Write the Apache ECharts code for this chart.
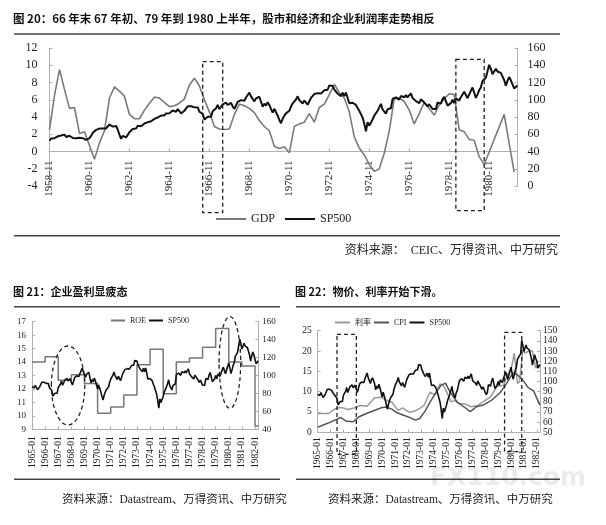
<!DOCTYPE html>
<html><head><meta charset="utf-8">
<script src="https://cdn.jsdelivr.net/npm/echarts@6/dist/echarts.min.js"></script>
<style>html,body{margin:0;padding:0;background:#fff}#c{width:606px;height:525px}</style>
</head><body><div id="c"></div>
<script>
// ---------------- DATA ----------------
const sp500Start = '1958-11';
const sp500 = [
 52.48,55.21,
 55.42,55.41,55.44,57.59,58.68,58.47,60.51,59.60,56.88,57.52,58.28,59.89,
 55.61,56.12,55.34,54.37,55.83,56.92,55.51,56.96,53.52,53.39,55.54,58.11,
 61.78,63.44,65.06,65.31,66.56,64.64,66.76,68.07,66.73,68.62,71.32,71.55,
 68.84,69.96,69.55,65.24,59.63,54.75,58.23,59.12,56.27,56.52,62.26,63.10,
 66.20,64.29,66.57,69.80,70.80,69.37,69.13,72.50,71.70,74.01,73.23,75.02,
 77.04,77.80,78.98,79.46,80.37,81.69,83.18,81.83,84.18,84.86,84.42,84.75,
 87.56,87.43,86.16,89.11,88.42,84.12,85.25,87.17,89.96,92.42,91.61,92.43,
 92.88,91.22,89.23,91.06,86.13,84.74,83.60,77.10,76.56,80.20,80.45,80.33,
 86.61,86.78,90.20,94.01,89.08,90.64,94.75,93.64,96.71,93.90,94.00,96.47,
 92.24,89.36,90.20,97.59,98.68,99.58,97.74,98.86,102.67,103.41,108.37,103.86,
 103.01,98.13,101.51,103.69,103.46,97.71,91.83,95.51,93.12,97.24,93.81,92.06,
 85.02,89.50,89.63,81.52,76.55,72.72,78.05,81.52,84.21,83.25,87.20,92.15,
 95.88,96.75,100.31,103.95,99.63,99.70,95.58,99.03,98.34,94.23,93.99,102.09,
 103.94,106.57,107.20,107.67,109.53,107.14,107.39,111.09,110.55,111.58,116.67,118.05,
 116.03,111.68,111.52,106.97,104.95,104.26,108.22,104.25,108.43,108.29,95.96,97.55,
 96.57,96.22,93.98,90.31,87.28,86.00,79.31,72.15,63.54,73.90,69.97,68.56,
 76.98,81.59,83.36,87.30,91.15,95.19,88.75,86.88,83.87,89.04,91.24,90.19,
 100.86,99.71,102.77,101.64,100.18,104.28,103.44,102.91,105.24,102.90,102.10,107.46,
 102.03,99.82,98.42,98.44,96.12,100.48,98.85,96.77,96.53,92.34,94.83,95.10,
 89.25,87.04,89.21,96.83,97.24,95.53,100.68,103.29,102.54,93.15,94.70,96.11,
 99.93,96.28,101.59,101.76,99.08,102.91,103.81,109.32,109.32,101.82,106.16,107.94,
 114.16,113.66,102.09,106.29,111.24,114.24,121.67,122.38,125.46,127.47,140.52,135.76,
 129.55,131.27,136.00,132.81,132.59,131.21,130.92,122.79,116.18,121.89,126.35,122.55,
 120.40,113.11,111.96,116.44
];
// GDP yoy (%), quarterly from 1958-11 (null = no point)
const gdpStart = '1958-11';
const gdpQuarterly = [
 2.5,6.5,9.5,7.2,5.0,5.1,2.1,2.3,0.7,-0.9,1.0,2.4,6.2,7.5,7.0,6.4,
 4.3,3.8,3.8,4.8,5.6,6.3,6.2,5.7,5.2,5.3,5.6,6.1,7.7,8.5,7.6,6.0,
 4.6,2.9,2.6,2.55,2.6,4.3,5.5,5.3,5.0,4.5,3.6,2.9,2.4,0.6,0.35,0.55,
 -0.15,2.9,3.2,3.4,4.4,3.4,5.1,5.5,6.6,7.8,6.8,6.2,4.6,1.7,0.4,-0.4,
 -1.5,-2.3,-2.0,-0.2,2.4,6.1,6.2,5.8,4.8,3.2,4.4,5.7,5.0,4.2,5.4,6.1,
 6.7,6.6,2.5,2.3,1.4,1.3,-0.6,-1.5,null,null,null,4.3,null,-2.4
];
// Chart 21: ROE (%)
const roeDates  = ['1965-01','1966-01','1967-01','1968-01','1969-01','1970-01','1971-01','1972-01','1973-01','1974-01','1975-01','1976-01','1977-01','1978-01','1979-01','1980-01','1981-01','1982-01','1982-04'];
const roeValues = [14.0,14.4,12.65,13.05,12.4,10.2,10.65,11.55,13.8,14.95,11.65,14.0,14.3,15.1,16.5,14.0,13.7,9.25,9.25];
// Chart 22: interest rate (%)
const rateDates  = ['1965-01','1965-11','1966-01','1966-04','1966-09','1967-01','1967-05','1967-11','1968-05','1968-11','1969-01','1969-06','1970-01','1970-04','1970-10','1971-02','1971-04','1971-08','1971-12','1972-03','1972-08','1972-12','1973-04','1973-08','1973-10','1974-02','1974-07','1974-10','1975-01','1975-05','1975-09','1976-01','1976-06','1976-12','1977-06','1977-12','1978-06','1978-12','1979-06','1979-10','1980-01','1980-04','1980-07','1980-09','1980-12','1981-02','1981-06','1981-09','1981-12','1982-02','1982-04'];
const rateValues = [4.6,4.6,5.0,5.6,6.1,6.0,5.6,6.0,6.6,6.4,7.0,8.5,8.6,8.0,7.4,6.0,5.4,6.0,5.3,4.9,5.3,5.9,6.6,9.0,9.9,9.2,11.9,11.5,10.0,7.5,7.8,7.0,7.0,6.3,6.6,7.7,8.7,11.3,11.6,14.4,15.3,19.5,12.0,12.5,20.3,19.5,20.0,20.0,15.8,16.5,16.5];
// Chart 22: CPI yoy (%)
const cpiDates  = ['1965-01','1965-06','1966-01','1966-07','1966-10','1967-04','1967-10','1968-04','1968-11','1969-08','1970-01','1970-05','1970-10','1971-03','1971-09','1972-03','1972-08','1972-12','1973-05','1973-10','1974-04','1974-08','1974-12','1975-04','1975-11','1976-06','1976-11','1977-05','1977-11','1978-07','1979-03','1979-09','1980-03','1980-06','1980-11','1981-05','1981-10','1982-01','1982-04'];
const cpiValues = [1.2,1.8,2.5,3.2,3.7,2.7,2.6,3.9,4.7,5.6,6.1,6.2,5.7,4.8,4.2,3.6,3.0,3.4,5.2,7.6,10.1,11.6,12.1,10.0,7.4,6.1,5.1,6.3,6.7,7.9,9.8,12.1,14.6,14.3,13.2,11.0,10.2,8.4,6.7];

// ---------------- BUILD ----------------
function months(start, n){
  const p = start.split('-').map(Number); const out = [];
  for (let i = 0; i < n; i++) { const t = p[0]*12 + p[1]-1 + i; out.push(Math.floor(t/12) + '-' + String(t%12+1).padStart(2,'0')); }
  return out;
}
const cat1 = months(sp500Start, sp500.length);
const start2 = cat1.indexOf('1965-01');
const cat2 = cat1.slice(start2);
const sp2 = sp500.slice(start2);
const gdpPairs = [];
const gdpCats = months(gdpStart, gdpQuarterly.length*3);
gdpQuarterly.forEach((v,q)=>{ if (v !== null) gdpPairs.push([gdpCats[q*3], v]); });
const zip = (a,b)=>a.map((d,i)=>[d,b[i]]);

const SERIF = "'Liberation Serif','DejaVu Serif',serif";
const CJK = "'Noto Sans CJK SC','Noto Sans',sans-serif";
const AX = '#b0b0b0';

// chart 1 grid geometry: left axis -4..12, x axis sits at value 0
const G1 = {left:49.5, top:48, width:468, height:138};
const G1_MIN = -4, G1_MAX = 12;
const zeroOffset = -G1.height * (0 - G1_MIN) / (G1_MAX - G1_MIN);

function xCat(grid, data, interval, fs, margin, offset){
  return { type:'category', gridIndex:grid, data:data, boundaryGap:false, position:'bottom', offset:offset||0,
    axisLine:{show:true, onZero:false, lineStyle:{color:AX}},
    axisTick:{show:true, inside:true, interval:interval, length:3, lineStyle:{color:AX}},
    axisLabel:{interval:interval, rotate:90, margin:margin, fontSize:fs, fontFamily:SERIF, color:'#222'},
    splitLine:{show:false} };
}
function yVal(grid, pos, min, max, interval, fs, margin){
  return { type:'value', gridIndex:grid, position:pos, min:min, max:max, interval:interval,
    axisLine:{show:true, lineStyle:{color:AX}},
    axisTick:{show:true, inside:true, length:3, lineStyle:{color:AX}},
    axisLabel:{fontSize:fs, fontFamily:SERIF, color:'#222', margin:margin},
    splitLine:{show:false} };
}
function line(name, x, y, data, color, w, extra){
  return Object.assign({ name:name, type:'line', xAxisIndex:x, yAxisIndex:y, data:data,
    showSymbol:false, symbol:'none', color:color, itemStyle:{color:color},
    lineStyle:{color:color, width:w}, animation:false }, extra||{});
}

const chart = echarts.init(document.getElementById('c'), null, {renderer:'canvas'});
chart.setOption({
  backgroundColor:'#fff',
  animation:false,
  grid:[
    Object.assign({containLabel:false, outerBoundsMode:'none'}, G1),
    {left:32, top:321.7, width:226.3, height:107.6, containLabel:false, outerBoundsMode:'none'},
    {left:317.7, top:330.7, width:222.3, height:101.6, containLabel:false, outerBoundsMode:'none'}
  ],
  xAxis:[ xCat(0, cat1, 23, 11, 9, zeroOffset), xCat(1, cat2, 11, 9.5, 7), xCat(2, cat2, 11, 9.5, 5) ],
  yAxis:[
    yVal(0,'left',G1_MIN,G1_MAX,2,12,12), yVal(0,'right',0,160,20,12,10),
    yVal(1,'left',9,17,1,9,6),   yVal(1,'right',40,160,20,9,4),
    yVal(2,'left',0,25,5,9.5,6), yVal(2,'right',50,150,10,9.5,3)
  ],
  legend:[
    {data:['GDP','SP500'], left:216, top:213, itemWidth:30, itemHeight:2, itemGap:10, icon:'rect', padding:0,
     textStyle:{fontSize:12, fontFamily:SERIF, color:'#222'}, selectedMode:false},
    {data:['ROE','SP500'], left:111, top:316.5, itemWidth:14, itemHeight:2, itemGap:3, icon:'rect', padding:0,
     textStyle:{fontSize:8, fontFamily:SERIF, color:'#222'}, selectedMode:false},
    {data:['利率','CPI','SP500'], left:335, top:318.5, itemWidth:15, itemHeight:2, itemGap:3, icon:'rect', padding:0,
     textStyle:{fontSize:8, fontFamily:SERIF+","+CJK, color:'#222'}, selectedMode:false}
  ],
  series:[
    line('GDP',0,0,gdpPairs,'#7a7a7a',1.6),
    line('SP500',0,1,sp500,'#111',2),
    line('ROE',1,2,zip(roeDates,roeValues),'#777',1.5,{step:'end'}),
    line('SP500',1,3,sp2,'#111',1.6),
    line('利率',2,4,zip(rateDates,rateValues),'#9a9a9a',1.5),
    line('CPI',2,4,zip(cpiDates,cpiValues),'#555',1.5),
    line('SP500',2,5,sp2,'#111',1.6)
  ]
});

// ---------------- ANNOTATIONS / TEXT ----------------
const px = (axis, cat) => chart.convertToPixel({xAxisIndex:axis}, cat);
const dash = {stroke:'#222', lineWidth:1.3, lineDash:[4,3], fill:null};
const rects = [
  {axis:0, from:'1966-07', to:'1967-07', y0:61.7, y1:212.7},
  {axis:0, from:'1979-03', to:'1980-08', y0:59.3, y1:210.7},
  {axis:2, from:'1966-07', to:'1968-01', y0:334.3, y1:454.3},
  {axis:2, from:'1979-07', to:'1980-11', y0:332.3, y1:451.7}
];
const ellipses = [
  {axis:1, at:'1967-10', rx:16.7, cy:385.5, ry:39.5},
  {axis:1, at:'1980-02', rx:10.8, cy:362.5, ry:45.8}
];
const g = [];
function hline(x1,x2,y){ g.push({type:'line', shape:{x1:x1,y1:y,x2:x2,y2:y}, style:{stroke:'#444', lineWidth:1.5}, silent:true}); }
function text(t,x,y,font,align,fill){ g.push({type:'text', x:x, y:y, style:{text:t, font:font, fill:fill||'#111', align:align||'left', verticalAlign:'middle'}, silent:true, z:10}); }
hline(14,560,34); hline(14,560,235.7);
hline(14,280,306.7); hline(296,560,306.7);
hline(14,280,479.3); hline(296,560,479.3);
text('图 20：66 年末 67 年初、79 年到 1980 上半年，股市和经济和企业利润率走势相反',13,19,"bold 11.5px "+CJK);
text('图 21：企业盈利显疲态',13,291.7,"bold 11px "+CJK);
text('图 22：物价、利率开始下滑。',295,291.7,"bold 11px "+CJK);
text('资料来源：  CEIC、万得资讯、中万研究',558,251,"12px "+SERIF+","+CJK,'right','#222');
text('资料来源：Datastream、万得资讯、中万研究',62,500,"11.5px "+SERIF+","+CJK,'left','#222');
text('资料来源：Datastream、万得资讯、中万研究',328,500,"11.5px "+SERIF+","+CJK,'left','#222');
g.push({type:'text', x:430, y:478, style:{text:'FX110.com', font:"bold 25px 'DejaVu Sans',sans-serif", fill:'rgba(0,0,0,0.08)', verticalAlign:'middle'}, silent:true, z:0});
rects.forEach(r=>{
  const x0 = px(r.axis, r.from), x1 = px(r.axis, r.to);
  g.push({type:'rect', shape:{x:x0, y:r.y0, width:x1-x0, height:r.y1-r.y0}, style:dash, silent:true, z:20});
});
ellipses.forEach(e=>{
  g.push({type:'ellipse', shape:{cx:px(e.axis,e.at), cy:e.cy, rx:e.rx, ry:e.ry}, style:dash, silent:true, z:20});
});
chart.setOption({graphic:g});
</script></body></html>
